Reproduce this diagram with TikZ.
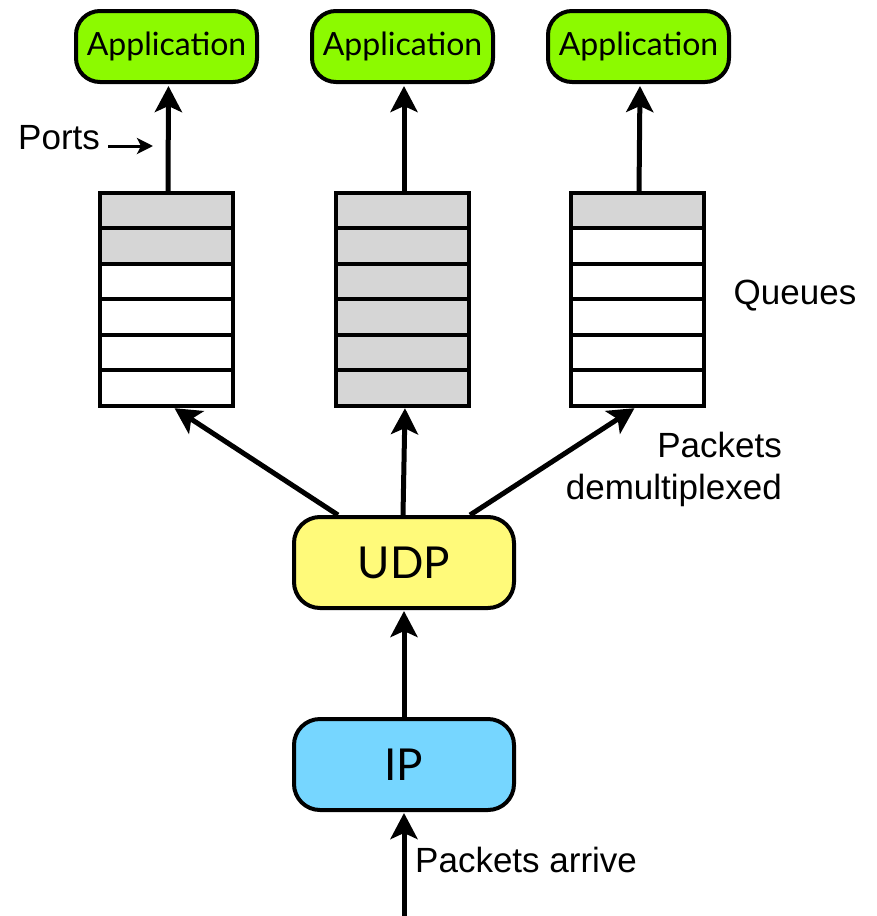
\documentclass[tikz,border=0pt]{standalone}
\usepackage{fontspec}
\setmainfont{Liberation Sans}
\newfontfamily\gillfont{Lato}
\usetikzlibrary{arrows.meta,calc}
\definecolor{appgreen}{RGB}{140,250,0}
\definecolor{udpyellow}{RGB}{255,250,122}
\definecolor{ipblue}{RGB}{118,214,255}
\definecolor{qgray}{RGB}{214,214,214}
\tikzset{
  appbox/.style={draw, line width=4pt, rounded corners=24pt, fill=appgreen,
    minimum width=181pt, minimum height=71pt, inner sep=0pt,
    font=\gillfont\fontsize{32}{32}\selectfont},
  layerbox/.style={draw, line width=4pt, rounded corners=26pt,
    minimum width=220pt, minimum height=91pt, inner sep=0pt,
    font=\gillfont\fontsize{44}{44}\selectfont},
  qbox/.style={minimum width=133pt, minimum height=213pt, inner sep=0pt},
  bigarrow/.style={line width=5pt, -{Stealth[length=26pt,width=27pt,inset=6pt]}},
  smallarrow/.style={line width=3pt, -{Stealth[length=16pt,width=16pt,inset=4pt]}},
  lbl/.style={font=\fontsize{35}{42}\selectfont, inner sep=0pt}
}
\begin{document}
\begin{tikzpicture}[x=1pt,y=-1pt]
\useasboundingbox (0,0) rectangle (877,916);
% applications
\node[appbox] (a1) at (166.5,46.5) {Application};
\node[appbox] (a2) at (402.5,46.5) {Application};
\node[appbox] (a3) at (638.5,46.5) {Application};
% queues
\newcommand{\drawqueue}[3]{% name, x center, number of grey cells
  \node[qbox] (#1) at (#2,299.5) {};
  \foreach \i in {1,...,6}{
    \ifnum\i>#3\relax
      \filldraw[fill=white, line width=4pt] ($(#1.north west)+(0,{(\i-1)*35.5})$) rectangle ($(#1.north east)+(0,{\i*35.5})$);
    \else
      \filldraw[fill=qgray, line width=4pt] ($(#1.north west)+(0,{(\i-1)*35.5})$) rectangle ($(#1.north east)+(0,{\i*35.5})$);
    \fi
  }
}
\drawqueue{q1}{166.5}{2}
\drawqueue{q2}{402.5}{6}
\drawqueue{q3}{637.5}{1}
% layers
\node[layerbox, fill=udpyellow] (udp) at (404,562.5) {UDP};
\node[layerbox, fill=ipblue] (ip) at (404,764.5) {IP};
% arrows queue -> application
\draw[bigarrow] ($(q1.north)+(1.5,0)$) -- ($(a1.south)+(2,2)$);
\draw[bigarrow] ($(q2.north)+(1.5,0)$) -- ($(a2.south)+(1.5,2)$);
\draw[bigarrow] ($(q3.north)+(1.5,0)$) -- ($(a3.south)+(1.5,2)$);
% arrows udp -> queues
\draw[bigarrow] ($(udp.north)+(-66,0)$) -- ($(q1.south)+(8,2)$);
\draw[bigarrow] ($(udp.north)+(-1,0)$) -- ($(q2.south)+(2.5,2)$);
\draw[bigarrow] ($(udp.north)+(66,0)$) -- ($(q3.south)+(-3,2)$);
% ip -> udp
\draw[bigarrow] (ip.north) -- ($(udp.south)+(0,1)$);
\coordinate (in) at (404,916);
\draw[bigarrow] (in) -- ($(ip.south)+(0,1)$);
% labels
\node[lbl, anchor=west] (ports) at (18,138) {Ports};
\coordinate (portsend) at (153,146);
\draw[smallarrow] ($(ports.east)+(8,8)$) -- (portsend);
\node[lbl] (queues) at (795,296) {Queues};
\node[lbl, anchor=east, align=right] (demux) at (782,469) {Packets\\demultiplexed};
\node[lbl, anchor=west] (arrive) at (415,860) {Packets arrive};
\end{tikzpicture}
\end{document}
